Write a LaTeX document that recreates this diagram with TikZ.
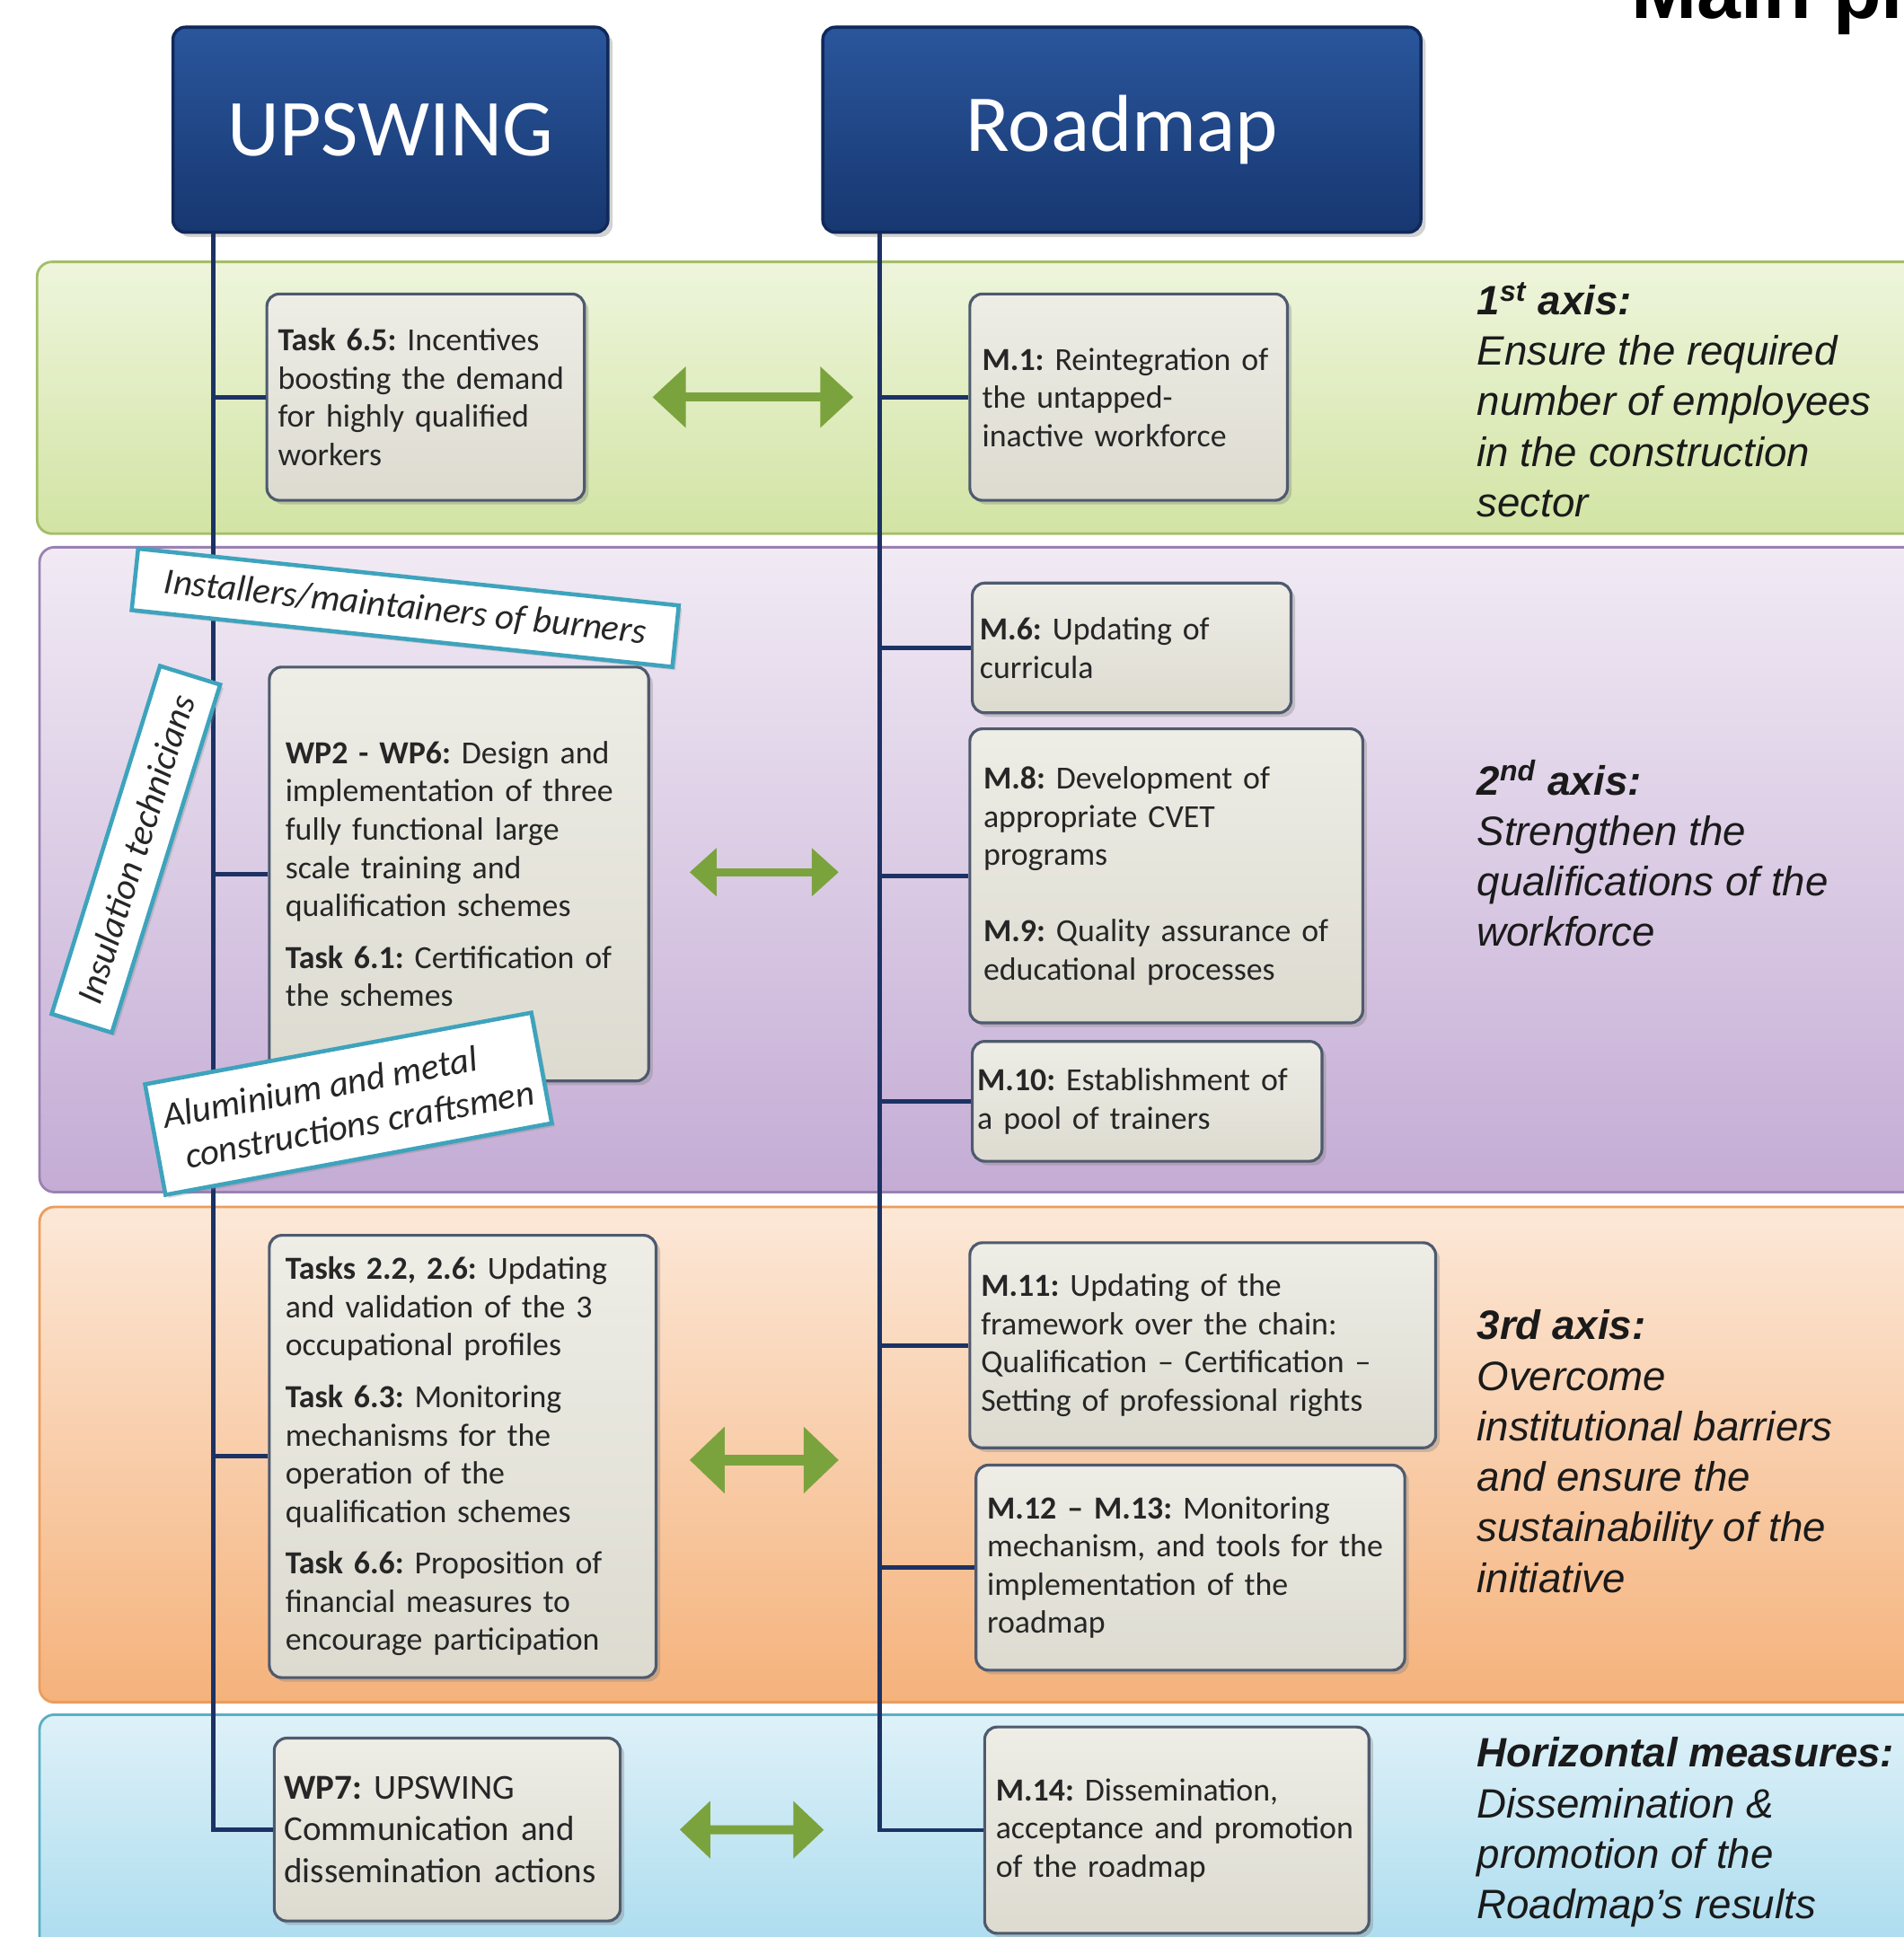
\documentclass[tikz,border=0pt]{standalone}
\usepackage{fontspec}
\setmainfont{Carlito}
\newfontfamily\axisfont{Liberation Sans}
\usepackage{tikz}
\usetikzlibrary{arrows.meta,shadows}
\frenchspacing
\definecolor{navyTop}{HTML}{2A569C}
\definecolor{navyBot}{HTML}{173770}
\definecolor{navyLine}{HTML}{10295A}
\definecolor{spineBlue}{HTML}{1C3264}
\definecolor{boxTop}{HTML}{EEEDE6}
\definecolor{boxBot}{HTML}{DDDBD0}
\definecolor{boxLine}{HTML}{4E5A6E}
\definecolor{boxText}{HTML}{262626}
\definecolor{greenTop}{HTML}{EEF5DC}
\definecolor{greenBot}{HTML}{D2E4A4}
\definecolor{greenLine}{HTML}{A4BE68}
\definecolor{purpleTop}{HTML}{F1EAF4}
\definecolor{purpleBot}{HTML}{C4ACD5}
\definecolor{purpleLine}{HTML}{9A82B2}
\definecolor{orangeTop}{HTML}{FCE8D8}
\definecolor{orangeBot}{HTML}{F5B27B}
\definecolor{orangeLine}{HTML}{EC9C5C}
\definecolor{blueTop}{HTML}{DEF1F8}
\definecolor{blueBot}{HTML}{A6DAEE}
\definecolor{blueLine}{HTML}{5AAFC4}
\definecolor{arrowGreen}{HTML}{7BA33D}
\definecolor{tagTeal}{HTML}{3EA3BD}
\definecolor{axisText}{HTML}{1A1A1A}
\newlength{\pxUnit}
\setlength{\pxUnit}{0.1376mm}
\tikzset{
  band/.style={draw=#1Line, line width=0.8pt, rounded corners=12\pxUnit, top color=#1Top, bottom color=#1Bot},
  headBox/.style={draw=navyLine, line width=1pt, rounded corners=10\pxUnit, top color=navyTop, bottom color=navyBot,
    text=white, font=\fontsize{25.6}{30}\selectfont, minimum height=166\pxUnit,
    drop shadow={shadow xshift=1.5pt, shadow yshift=-1.5pt, opacity=0.35}},
  itemBox/.style={draw=boxLine, line width=0.9pt, rounded corners=10\pxUnit, top color=boxTop, bottom color=boxBot,
    text=boxText, align=left, inner ysep=0pt, font=\fontsize{10.2}{12.1}\selectfont,
    drop shadow={shadow xshift=1.3pt, shadow yshift=-1.3pt, opacity=0.35}},
  tagBox/.style={draw=tagTeal, line width=1.3pt, fill=white, text=boxText, inner sep=0pt, align=left,
    font=\fontsize{11.6}{13.8}\selectfont\itshape,
    drop shadow={shadow xshift=1pt, shadow yshift=-1pt, opacity=0.3}},
  axisLbl/.style={anchor=north west, inner sep=0pt, align=left, text=axisText,
    font=\axisfont\itshape\fontsize{13}{16}\selectfont},
  spine/.style={draw=spineBlue, line width=1.4pt},
  linkArrow/.style n args={3}{draw=arrowGreen, line width=#1, >={Triangle[width=#2,length=#3]}, <->},
}

\begin{document}
\begin{tikzpicture}[x=\pxUnit, y=-\pxUnit]
  \useasboundingbox (0,0) rectangle (1541,1568);
  \clip (0,0) rectangle (1541,1568);
  \fill[white] (0,0) rectangle (1541,1568);

  % axis bands
  \draw[band=green]  (30,212)  rectangle (1570,432);
  \draw[band=purple] (32,443)  rectangle (1570,965);
  \draw[band=orange] (32,977)  rectangle (1570,1378);
  \draw[band=blue]   (32,1388) rectangle (1570,1600);

  \node[anchor=base west, inner sep=0pt, font=\axisfont\bfseries\fontsize{25}{28}\selectfont] (mainTtl) at (1320,15) {Main pillars};

  \node[headBox, minimum width=352\pxUnit] (upsw) at (316,105) {UPSWING};
  \node[headBox, minimum width=484\pxUnit] (rmap) at (908,105) {Roadmap};

  % UPSWING side
  \node[itemBox, inner xsep=9\pxUnit, text width=239\pxUnit, minimum height=167\pxUnit] (t65) at (344.5,321.5)
    {\textbf{Task 6.5:} Incentives\\boosting the demand\\for highly qualified\\workers};
  \node[itemBox, inner xsep=13\pxUnit, text width=281\pxUnit, minimum height=335\pxUnit] (wp26) at (371.5,707.5)
    {\textbf{WP2 - WP6:} Design and\\implementation of three\\fully functional large\\scale training and\\qualification schemes\\[4.3pt]
     \textbf{Task 6.1:} Certification of\\the schemes};
  \node[itemBox, inner xsep=13\pxUnit, text width=287\pxUnit, minimum height=358\pxUnit] (tsk22) at (374.5,1179)
    {\textbf{Tasks 2.2, 2.6:} Updating\\and validation of the 3\\occupational profiles\\[4.3pt]
     \textbf{Task 6.3:} Monitoring\\mechanisms for the\\operation of the\\qualification schemes\\[4.3pt]
     \textbf{Task 6.6:} Proposition of\\financial measures to\\encourage participation};
  \node[itemBox, inner xsep=8\pxUnit, text width=264\pxUnit, minimum height=148\pxUnit,
        font=\fontsize{11.1}{13.3}\selectfont] (wp7) at (362,1481)
    {\textbf{WP7:} UPSWING\\Communication and\\dissemination actions};

  % Roadmap side
  \node[itemBox, inner xsep=10\pxUnit, text width=237\pxUnit, minimum height=167\pxUnit] (m1) at (913.5,321.5)
    {\textbf{M.1:} Reintegration of\\the untapped-\\inactive workforce};
  \node[itemBox, inner xsep=6\pxUnit, text width=246\pxUnit, minimum height=105\pxUnit] (m6) at (916,524.5)
    {\textbf{M.6:} Updating of\\curricula};
  \node[itemBox, inner xsep=11\pxUnit, text width=296\pxUnit, minimum height=238\pxUnit] (m89) at (944,709)
    {\textbf{M.8:} Development of\\appropriate CVET\\programs\\[12.1pt]
     \textbf{M.9:} Quality assurance of\\educational processes};
  \node[itemBox, inner xsep=4\pxUnit, text width=275\pxUnit, minimum height=97\pxUnit] (m10) at (928.5,891.5)
    {\textbf{M.10:} Establishment of\\a pool of trainers};
  \node[itemBox, inner xsep=9\pxUnit, text width=359\pxUnit, minimum height=166\pxUnit] (m11) at (973.5,1089)
    {\textbf{M.11:} Updating of the\\framework over the chain:\\Qualification -- Certification --\\Setting of professional rights};
  \node[itemBox, inner xsep=9\pxUnit, text width=329\pxUnit, minimum height=166\pxUnit] (m12) at (963.5,1269)
    {\textbf{M.12 -- M.13:} Monitoring\\mechanism, and tools for the\\implementation of the\\roadmap};
  \node[itemBox, inner xsep=9\pxUnit, text width=293\pxUnit, minimum height=167\pxUnit] (m14) at (952.5,1481.5)
    {\textbf{M.14:} Dissemination,\\acceptance and promotion\\of the roadmap};

  % spines and branches
  \coordinate (uTop) at ([xshift=34\pxUnit]upsw.south west);
  \coordinate (rTop) at ([xshift=47\pxUnit]rmap.south west);
  \draw[spine] (uTop) |- (wp7.west);
  \draw[spine] (rTop) |- (m14.west);
  \foreach \b in {t65,wp26,tsk22}
    \draw[spine] (\b.west) -- (\b.west -| uTop);
  \foreach \b in {m1,m6,m89,m10,m11,m12}
    \draw[spine] (\b.west) -- (\b.west -| rTop);

  % correspondences
  \draw[linkArrow={1mm}{6.6mm}{3.7mm}, shorten <=54\pxUnit, shorten >=93\pxUnit] (t65.east) -- (m1.west);
  \draw[linkArrow={0.85mm}{5.2mm}{3mm}, shorten <=32\pxUnit, shorten >=105\pxUnit] ([yshift=0.2mm]wp26.east) -- ([yshift=0.2mm]wp26.east -| m89.west);
  \draw[linkArrow={1.2mm}{7.2mm}{3.9mm}, shorten <=26\pxUnit, shorten >=105\pxUnit] ([yshift=-0.4mm]tsk22.east) -- ([yshift=-0.4mm]tsk22.east -| m11.west);
  \draw[linkArrow={1mm}{6.2mm}{3.4mm}, shorten <=47\pxUnit, shorten >=129\pxUnit] (wp7.east) -- (m14.west);

  % occupation tags
  \node[tagBox, rotate=-6, minimum width=440\pxUnit, minimum height=50\pxUnit] (instTag) at (328,492)
    {Installers/maintainers of burners};
  \node[tagBox, rotate=72.7, minimum width=295\pxUnit, minimum height=51\pxUnit] (insulTag) at (110,687.5)
    {Insulation technicians};
  \node[tagBox, rotate=10.5, minimum width=318\pxUnit, minimum height=91\pxUnit] (alumTag) at (282,893.5)
    {Aluminium and metal\\\hspace*{0.4em}constructions craftsmen};

  % axis captions
  \node[axisLbl] (ax1) at (1195,228)
    {\textbf{1\textsuperscript{st} axis:}\\Ensure the required\\number of employees\\in the construction\\sector};
  \node[axisLbl] (ax2) at (1195,615)
    {\textbf{2\textsuperscript{nd} axis:}\\Strengthen the\\qualifications of the\\workforce};
  \node[axisLbl] (ax3) at (1195,1060)
    {\textbf{3rd axis:}\\Overcome\\institutional barriers\\and ensure the\\sustainability of the\\initiative};
  \node[axisLbl] (ax4) at (1195,1406)
    {\textbf{Horizontal measures:}\\Dissemination \&\\promotion of the\\Roadmap’s results};
\end{tikzpicture}
\end{document}
